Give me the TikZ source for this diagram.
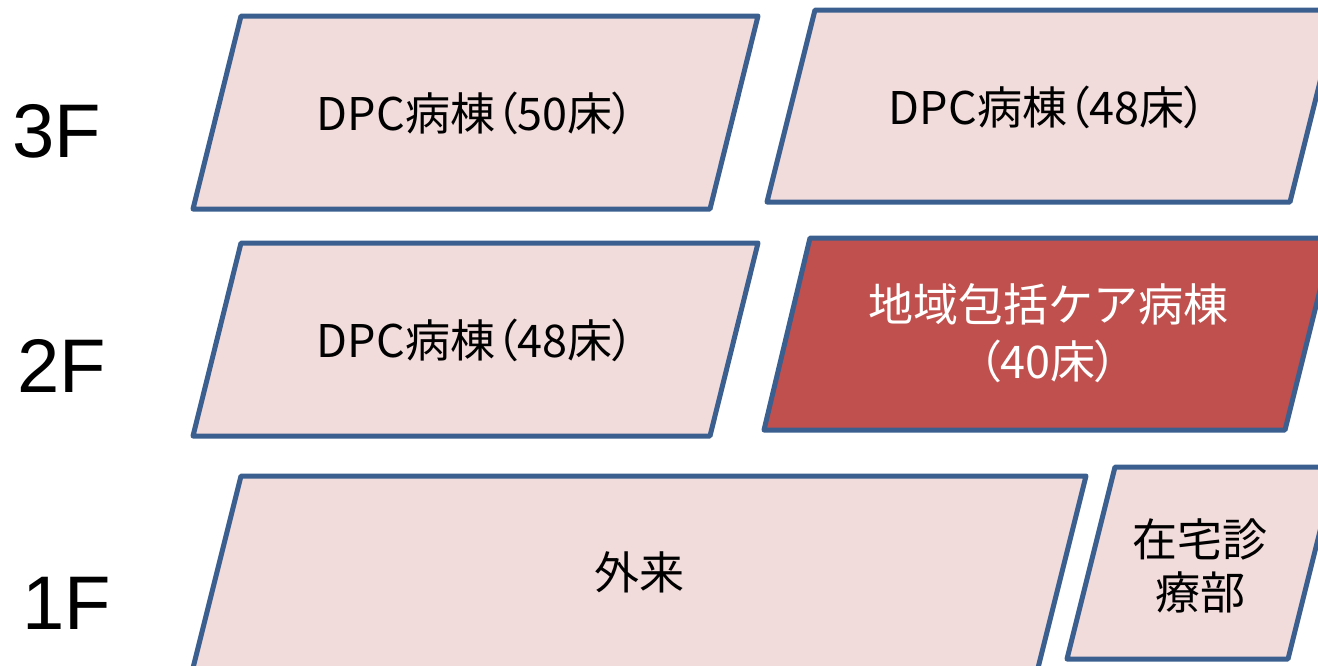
\documentclass[tikz,border=0pt]{standalone}
\usepackage{fontspec}
\setmainfont{Liberation Sans}
\newfontfamily\jp{Noto Sans CJK JP}
\newfontfamily\jpp[RawFeature=+palt]{Noto Sans CJK JP}
\definecolor{edgeblue}{HTML}{3B5F8F}
\definecolor{pinkfill}{HTML}{F2DCDB}
\definecolor{redfill}{HTML}{C0504D}
\tikzset{
  ward/.style={draw=edgeblue, line width=5pt, line join=round, fill=pinkfill},
  redward/.style={ward, fill=redfill},
  wardtext/.style={font=\jp\fontsize{45}{57}\selectfont, align=center, text=black, inner sep=0pt},
  floortext/.style={font=\fontsize{76}{80}\selectfont, inner sep=0pt}
}
\begin{document}
\begin{tikzpicture}[x=1pt,y=-1pt]
\useasboundingbox (0,0) rectangle (1318,665);
\begin{scope}
\clip (0,0) rectangle (1318,665);
\draw[ward] (241,16) -- (758,16) -- (710,209) -- (193,209) -- cycle;
\draw[ward] (815,10) -- (1338,10) -- (1290,202) -- (767,202) -- cycle;
\draw[ward] (241,243) -- (758,243) -- (710,436) -- (193,436) -- cycle;
\draw[redward] (810,238) -- (1333,238) -- (1285,430) -- (764,430) -- cycle;
\draw[ward] (241,476) -- (1086,476) -- (1030,700) -- (185,700) -- cycle;
\draw[ward] (1115,467) -- (1336,467) -- (1288,659) -- (1067,659) -- cycle;
\end{scope}
\node[floortext] (f3) at (57,131) {3F};
\node[floortext] (f2) at (62,366) {2F};
\node[floortext] (f1) at (67,603) {1F};
\node[wardtext] (a) at (476,113) {\jpp DPC病棟（50床）};
\node[wardtext] (b) at (1048,107) {\jpp DPC病棟（48床）};
\node[wardtext] (c) at (476,340) {\jpp DPC病棟（48床）};
\node[wardtext, text=white] (d) at (1048,333) {地域包括ケア病棟\\{\jpp （40床）}};
\node[wardtext] (e) at (639,572) {外来};
\node[wardtext, font=\jp\fontsize{45}{53}\selectfont] (f) at (1200,566) {在宅診\\療部};
\end{tikzpicture}
\end{document}
